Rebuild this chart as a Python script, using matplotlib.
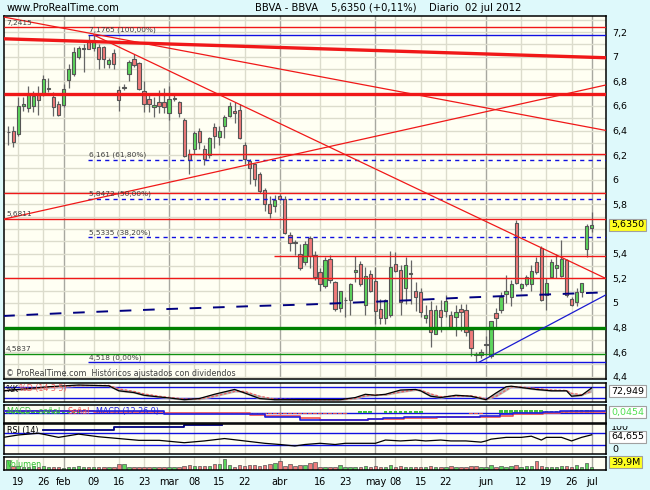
import matplotlib
matplotlib.use("Agg")
import matplotlib.pyplot as plt
import numpy as np
import pandas as pd
from matplotlib.patches import Rectangle

# ---- data (BBVA daily, 17 jan - 02 jul 2012) ----
holidays = ["2012-04-06", "2012-04-09", "2012-05-01"]
dates = pd.bdate_range("2012-01-17", "2012-07-02")
dates = dates[~dates.isin(pd.to_datetime(holidays))]

opens = [6.385, 6.40, 6.37, 6.60, 6.58, 6.60, 6.70, 6.70, 6.74, 6.67,
         6.62, 6.61, 6.81, 6.86, 7.00, 7.06, 7.12, 7.07, 7.08, 7.08,
         6.94, 7.03, 6.73, 6.75, 6.86, 6.98, 6.95, 6.72, 6.66, 6.59,
         6.63, 6.63, 6.54, 6.66, 6.63, 6.49, 6.21, 6.25, 6.40, 6.25,
         6.20, 6.43, 6.35, 6.44, 6.52, 6.56, 6.57, 6.28, 6.15, 6.13,
         6.05, 5.92, 5.80, 5.79, 5.865, 5.845, 5.55, 5.49, 5.395, 5.33,
         5.53, 5.39, 5.25, 5.14, 5.36, 5.17, 4.955, 5.02, 5.02, 5.25,
         5.32, 4.985, 5.235, 5.18, 4.95, 4.88, 4.905, 5.32, 5.27, 5.12,
         5.235, 5.10, 5.085, 4.875, 4.945, 4.745, 4.945, 4.935, 4.905, 4.885,
         4.95, 4.945, 4.78, 4.585, 4.575, 4.655, 4.57, 4.915, 4.945, 5.075,
         5.05, 5.65, 5.12, 5.15, 5.15, 5.33, 5.445, 5.065, 5.21, 5.28,
         5.215, 5.35, 5.03, 5.01, 5.09, 5.435, 5.61]
highs = [6.44, 6.44, 6.67, 6.67, 6.76, 6.72, 6.76, 6.85, 6.83, 6.71,
         6.64, 6.78, 6.94, 7.08, 7.09, 7.10, 7.175, 7.1765, 7.10, 7.09,
         6.99, 7.06, 6.76, 6.78, 6.97, 7.02, 6.96, 6.80, 6.70, 6.67,
         6.73, 6.75, 6.76, 6.70, 6.64, 6.50, 6.25, 6.40, 6.42, 6.28,
         6.345, 6.46, 6.44, 6.53, 6.63, 6.63, 6.62, 6.31, 6.17, 6.14,
         6.06, 5.93, 5.87, 5.88, 5.885, 5.865, 5.58, 5.51, 5.48, 5.50,
         5.54, 5.42, 5.28, 5.37, 5.39, 5.18, 5.10, 5.05, 5.165, 5.38,
         5.34, 5.29, 5.27, 5.29, 5.03, 5.03, 5.42, 5.41, 5.31, 5.375,
         5.35, 5.17, 5.125, 4.985, 5.015, 4.985, 5.025, 5.065, 4.935, 4.985,
         4.995, 4.995, 4.795, 4.605, 4.625, 4.735, 4.855, 4.955, 5.085, 5.225,
         5.185, 5.675, 5.165, 5.23, 5.31, 5.375, 5.46, 5.20, 5.36, 5.40,
         5.51, 5.36, 5.05, 5.12, 5.16, 5.64, 5.735]
lows = [6.28, 6.27, 6.36, 6.56, 6.55, 6.55, 6.53, 6.68, 6.71, 6.52,
        6.52, 6.59, 6.75, 6.84, 6.98, 6.88, 7.06, 7.05, 6.90, 6.91,
        6.91, 6.90, 6.56, 6.73, 6.80, 6.92, 6.73, 6.55, 6.55, 6.51,
        6.54, 6.54, 6.49, 6.64, 6.51, 6.185, 6.05, 6.21, 6.25, 6.12,
        6.18, 6.26, 6.28, 6.34, 6.51, 6.46, 6.33, 6.13, 5.97, 5.95,
        5.89, 5.75, 5.69, 5.74, 5.835, 5.56, 5.42, 5.39, 5.27, 5.31,
        5.28, 5.19, 5.10, 5.12, 5.16, 4.935, 4.925, 4.885, 4.905, 5.17,
        5.14, 4.905, 5.09, 4.825, 4.825, 4.825, 4.885, 5.25, 4.905, 4.995,
        4.995, 4.935, 4.885, 4.835, 4.645, 4.745, 4.765, 4.885, 4.795, 4.735,
        4.775, 4.735, 4.565, 4.518, 4.55, 4.575, 4.555, 4.795, 4.915, 5.00,
        4.975, 5.155, 5.10, 5.135, 5.10, 5.235, 5.015, 4.945, 5.20, 5.20,
        5.21, 5.05, 4.975, 4.975, 5.05, 5.375, 5.58]
closes = [6.39, 6.31, 6.60, 6.62, 6.70, 6.68, 6.65, 6.82, 6.745, 6.59,
          6.53, 6.74, 6.90, 7.04, 7.07, 7.07, 7.06, 7.14, 6.98, 6.98,
          6.97, 6.94, 6.65, 6.755, 6.96, 6.93, 6.74, 6.62, 6.62, 6.61,
          6.60, 6.59, 6.66, 6.665, 6.54, 6.195, 6.16, 6.38, 6.31, 6.17,
          6.34, 6.36, 6.40, 6.51, 6.60, 6.54, 6.34, 6.17, 6.10, 6.01,
          5.91, 5.80, 5.73, 5.84, 5.845, 5.57, 5.49, 5.485, 5.28, 5.48,
          5.38, 5.21, 5.15, 5.35, 5.19, 4.95, 5.10, 5.025, 5.15, 5.27,
          5.15, 5.215, 5.10, 4.935, 4.88, 5.02, 5.29, 5.26, 5.005, 5.31,
          5.24, 5.045, 4.925, 4.905, 4.765, 4.945, 4.885, 5.015, 4.805, 4.925,
          4.93, 4.76, 4.635, 4.58, 4.60, 4.67, 4.85, 4.88, 5.05, 5.10,
          5.15, 5.16, 5.15, 5.21, 5.26, 5.25, 5.025, 5.16, 5.33, 5.31,
          5.355, 5.065, 4.985, 5.085, 5.16, 5.629, 5.635]
volumes = [148, 64, 59, 49, 49, 54, 49, 59, 44, 39,
           39, 35, 49, 39, 59, 39, 39, 49, 39, 49,
           44, 49, 84, 84, 39, 44, 39, 49, 39, 39,
           39, 49, 44, 44, 44, 64, 69, 64, 64, 54,
           64, 84, 84, 158, 79, 49, 69, 64, 69, 69,
           59, 74, 84, 99, 133, 64, 84, 64, 69, 69,
           99, 123, 49, 39, 39, 49, 69, 44, 49, 44,
           49, 59, 44, 64, 49, 44, 69, 44, 54, 44,
           49, 44, 49, 44, 59, 44, 49, 44, 54, 44,
           49, 44, 64, 59, 49, 44, 69, 49, 59, 49,
           54, 69, 49, 54, 59, 138, 59, 49, 44, 49,
           54, 54, 44, 74, 49, 108, 39.9]

# indicator readings (bar index, value)
stoch_idx = [-1, 4, 8, 14, 20, 22, 25, 27, 30, 32, 35, 38, 41, 45, 47, 50, 53, 58,
             62, 66, 69, 71, 73, 75, 78, 81, 82, 84, 86, 89, 92, 94, 95, 97, 99,
             100, 102, 105, 108, 111, 112, 114, 116]
stoch_k = [58, 70, 79, 88, 84, 58, 49, 35, 26, 21, 12, 18, 40, 65, 47, 18, 12, 12,
           12, 12, 23, 40, 35, 40, 62, 65, 58, 30, 23, 35, 30, 18, 12, 47, 79,
           82, 75, 65, 58, 58, 30, 35, 72.949]
stoch_d = [60, 66, 75, 85, 86, 68, 55, 42, 30, 24, 16, 15, 30, 55, 55, 30, 15, 12,
           12, 12, 18, 32, 37, 38, 52, 63, 62, 42, 28, 30, 32, 24, 15, 30, 62,
           78, 78, 70, 62, 60, 45, 38, 55]
rsi_idx = [-1, 2, 6, 10, 14, 18, 22, 26, 30, 35, 39, 43, 47, 51, 54, 57, 59, 62,
           65, 67, 70, 73, 75, 78, 81, 83, 86, 88, 91, 94, 95, 96, 99, 102, 104,
           106, 107, 110, 111, 112, 114, 116]
rsi_val = [56, 64, 70, 56, 67, 58, 52, 46, 46, 38, 44, 52, 44, 36, 32, 27, 32, 36,
           32, 36, 36, 36, 47, 44, 47, 44, 47, 44, 44, 40, 44, 50, 56, 56, 60,
           47, 56, 56, 50, 44, 56, 64.655]
rsi_top_idx = [7, 21, 35, 42.5]
rsi_top_val = [81, 92, 98.5, 98.5]

macd_idx = [-1, 17, 31, 48, 51, 58, 62, 68.6, 71.6, 74.6, 78.6, 85.2, 93.8, 97.8,
            100.4, 106.4, 109.7, 118.7]
macd_line = [0.03, 0.026, -0.02, -0.02, -0.088, -0.14, -0.154, -0.14, -0.12, -0.108,
             -0.094, -0.088, -0.074, -0.034, -0.008, 0.012, 0.032, 0.032]
macd_signal = [0.035, 0.02, -0.01, -0.04, -0.07, -0.11, -0.15, -0.15, -0.135, -0.12,
               -0.105, -0.095, -0.085, -0.06, -0.034, -0.008, 0.02, 0.02]
macd_hist = ([0.02] * 15 + [0.0] * 17 + [-0.03] * 16 + [-0.035] * 14 + [-0.034] * 6
             + [0.0] * 2 + [0.03] * 3 + [0.0] * 2 + [0.03] * 8 + [0.0] * 9
             + [-0.03] * 3 + [0.0] * 3 + [0.045] * 9 + [0.03] * 5 + [0.0454] * 5)

ma_idx = [-1, 10, 20, 30, 40, 50, 60, 70, 80, 90, 100, 110, 118.7]
ma_val = [4.894, 4.915, 4.932, 4.948, 4.962, 4.976, 4.988, 5.005, 5.022, 5.042,
          5.058, 5.073, 5.086]

tick_dates = ["2012-01-19", "2012-01-26", "2012-02-01", "2012-02-09", "2012-02-16",
              "2012-02-23", "2012-03-01", "2012-03-08", "2012-03-15", "2012-03-22",
              "2012-04-02", "2012-04-16", "2012-04-23", "2012-05-02", "2012-05-08",
              "2012-05-15", "2012-05-22", "2012-06-01", "2012-06-12", "2012-06-19",
              "2012-06-26", "2012-07-02"]
tick_labels = ["19", "26", "feb", "09", "16", "23", "mar", "08", "15", "22", "abr",
               "16", "23", "may", "08", "15", "22", "jun", "12", "19", "26", "jul"]
months = ["feb", "mar", "abr", "may", "jun", "jul"]

fib_levels = [7.1765, 6.161, 5.8472, 5.5335, 4.518]
fib_texts = ["7,1765 (100,00%)", "6,161 (61,80%)", "5,8472 (50,00%)",
             "5,5335 (38,20%)", "4,518 (0,00%)"]

# ---- styling ----
W, H = 650, 490
BG = "#def9fb"
PANEL = "#fffff3"
GRID = "#dcdccc"
MONTH = "#a8a8a0"
UP = "#5cd65c"
DOWN = "#f07a7a"
EDGE = "#555555"
RED = "#f01818"
BLUE = "#1010e0"
plt.rcParams["font.family"] = ["DejaVu Sans"]

fig = plt.figure(figsize=(6.5, 4.9), dpi=100)
fig.patch.set_facecolor(BG)


def panel(y0, y1):
    a = fig.add_axes([3.5 / W, 1 - y1 / H, 602 / W, (y1 - y0) / H])
    a.set_facecolor(PANEL)
    a.set_xlim(-0.93, 118.75)
    for s in a.spines.values():
        s.set_linewidth(1.1)
        s.set_color("black")
    a.set_yticks([])
    a.set_xticks([])
    return a


def ftext(x, y, s, **kw):
    fig.text(x / W, 1 - y / H, s, va="center", **kw)


n = len(dates)
x = np.arange(n)
tick_pos = [dates.get_loc(pd.Timestamp(d)) for d in tick_dates]
up = [c >= o for o, c in zip(opens, closes)]

ax = panel(16.5, 379)
ax_st = panel(382.7, 402)
ax_md = panel(405, 423)
ax_rs = panel(424.3, 454)
ax_vo = panel(457.3, 470)

for a in (ax, ax_st, ax_md, ax_rs, ax_vo):
    for p, lab in zip(tick_pos, tick_labels):
        a.axvline(p, color=MONTH if lab in months else GRID, lw=1, zorder=0)

# ---- main price panel ----
ax.set_ylim(4.382, 7.327)
for lv in np.arange(4.4, 7.31, 0.1):
    ax.axhline(lv, color=GRID, lw=1, zorder=0)

ax.vlines(x, lows, highs, color="#666666", lw=0.9, zorder=2)
for i in range(n):
    body = max(abs(closes[i] - opens[i]), 0.006)
    ax.add_patch(Rectangle((i - 0.33, min(opens[i], closes[i])), 0.66, body,
                           facecolor=UP if up[i] else DOWN, edgecolor=EDGE,
                           lw=0.8, zorder=3))

x0, x1 = -0.93, 118.75
for lv, start in [(7.2415, x0), (6.207, 35.7), (5.89, x0), (5.6811, x0),
                  (5.381, 52.8), (5.20, x0)]:
    ax.hlines(lv, start, x1, color=RED, lw=1.0, zorder=4)
ax.hlines(6.70, x0, x1, color=RED, lw=2.4, zorder=4)
ax.hlines(4.80, x0, x1, color="#008000", lw=2.4, zorder=4)
ax.hlines(4.5837, x0, x1, color="#109010", lw=1.0, zorder=4)
for lv in fib_levels:
    ls = "-" if lv in (7.1765, 4.518) else (0, (3, 3))
    ax.hlines(lv, 15.9, x1, color=BLUE, lw=1.0, linestyles=ls, zorder=4)

ax.plot([x0, x1], [7.146, 6.992], color=RED, lw=2.4, zorder=4)
ax.plot([x0, x1], [7.323, 6.402], color=RED, lw=0.9, zorder=4)
ax.plot([17, x1], [7.1765, 5.20], color=RED, lw=0.9, zorder=4)
ax.plot([x0, x1], [5.68, 6.77], color=RED, lw=0.9, zorder=4)
ax.plot([93.6, x1], [4.518, 5.064], color="#1a1ad0", lw=0.9, zorder=4)
ax.plot(ma_idx, ma_val, color="#000080", lw=1.4, ls=(0, (6, 6)), zorder=4)

ax.yaxis.tick_right()
ticks = np.round(np.arange(4.4, 7.21, 0.2), 1)
ax.set_yticks(ticks)
ax.set_yticklabels(["" if t == 5.6 else f"{t:g}".replace(".", ",") for t in ticks],
                   fontsize=6.8)
ax.tick_params(axis="y", length=0, pad=5)

lab_kw = dict(fontsize=5.3, color="#404040")
ftext(6, 22.5, "7,2415", **lab_kw)
for lv, s in zip(fib_levels, fib_texts):
    ftext(89, 35 + (7.1765 - lv) * 123.1 - 5, s, **lab_kw)
ftext(6, 214, "5,6811", **lab_kw)
ftext(6, 349, "4,5837", **lab_kw)
ftext(6, 373.5, "© ProRealTime.com  Históricos ajustados con dividendos",
      fontsize=5.8, color="#404040")

ftext(7, 8, "www.ProRealTime.com", fontsize=7.2, color="black")
ftext(255, 8, "BBVA - BBVA", fontsize=7.2, color="black")
ftext(331, 8, "5,6350 (+0,11%)    Diario  02 jul 2012", fontsize=7.2, color="black")

# ---- stochastic ----
ax_st.set_ylim(0, 100)
ax_st.axhline(80, color=BLUE, lw=1, zorder=1)
ax_st.axhline(20, color=BLUE, lw=1, zorder=1)
ax_st.fill_between(stoch_idx, stoch_k, stoch_d, color="#b8b8b8", zorder=2)
ax_st.plot(stoch_idx, stoch_d, color="#f06060", lw=0.9, ls=(0, (2, 1.5)), zorder=3)
ax_st.plot(stoch_idx, stoch_k, color="black", lw=0.9, zorder=3)
ftext(5, 389, "%K", fontsize=5.8, color="black")
ftext(19, 389, "%D (14 3 5)", fontsize=5.8, color="#f06060")

# ---- MACD ----
ax_md.set_ylim(-0.21, 0.15)
ax_md.axhline(0, color=BLUE, lw=1, zorder=1)
ax_md.bar(x, macd_hist, width=0.75,
          color=["#40c040" if h > 0 else "#e05050" for h in macd_hist], zorder=2)
ax_md.plot(macd_idx, macd_signal, color="#f05050", lw=1.2, drawstyle="steps-post", zorder=3)
ax_md.plot(macd_idx, macd_line, color="#2020e0", lw=1.2, drawstyle="steps-post", zorder=3)
ftext(7, 411.5, "MACD - señal", fontsize=5.8, color="#40c040")
ftext(67, 411.5, "Señal", fontsize=5.8, color="#f05050")
ftext(96, 411.5, "MACD (12 26 9)", fontsize=5.8, color="#2020e0")

# ---- RSI ----
ax_rs.set_ylim(0, 100)
ax_rs.axhline(70, color=BLUE, lw=1, zorder=1)
ax_rs.axhline(30, color=BLUE, lw=1, zorder=1)
ax_rs.plot(rsi_top_idx, rsi_top_val, color="#000080", lw=1.3, drawstyle="steps-post",
           zorder=2)
ax_rs.plot(rsi_idx, rsi_val, color="black", lw=0.9, zorder=3)
ftext(7, 430.5, "RSI (14)", fontsize=5.8, color="black")

# ---- volume ----
ax_vo.set_ylim(0, 190)
ax_vo.bar(x, volumes, width=0.7, color=[UP if u else DOWN for u in up],
          edgecolor=EDGE, lw=0.5, zorder=2)
ftext(7, 464, "Volumen", fontsize=5.8, color="#30c030")
ax_vo.set_xticks(tick_pos)
ax_vo.set_xticklabels(tick_labels, fontsize=7)
ax_vo.tick_params(axis="x", length=0, pad=5)

# ---- right side value boxes ----
box = dict(boxstyle="square,pad=0.18", ec="#a0a0a0", lw=0.8)
ftext(611, 224.8, "5,6350", fontsize=6.8, bbox=dict(box, fc="#ffff20"))
ftext(611, 391, "72,949", fontsize=6.8, bbox=dict(box, fc="white"))
ftext(611, 412, "0,0454", fontsize=6.8, color="#50e050", bbox=dict(box, fc="white"))
ftext(611, 427.5, "100", fontsize=6.8)
fig.patches.append(Rectangle((609 / W, 1 - 425.5 / H), 35 / W, 4 / H,
                             transform=fig.transFigure, fc=BG, ec="none", zorder=5))
ftext(611, 436.7, "64,655", fontsize=6.8, bbox=dict(box, fc="white"))
ftext(612, 449, "0", fontsize=6.8)
ftext(611, 462, "39,9M", fontsize=6.8, bbox=dict(box, fc="#ffff20"))

fig.savefig("out.png", dpi=100, facecolor=BG)
